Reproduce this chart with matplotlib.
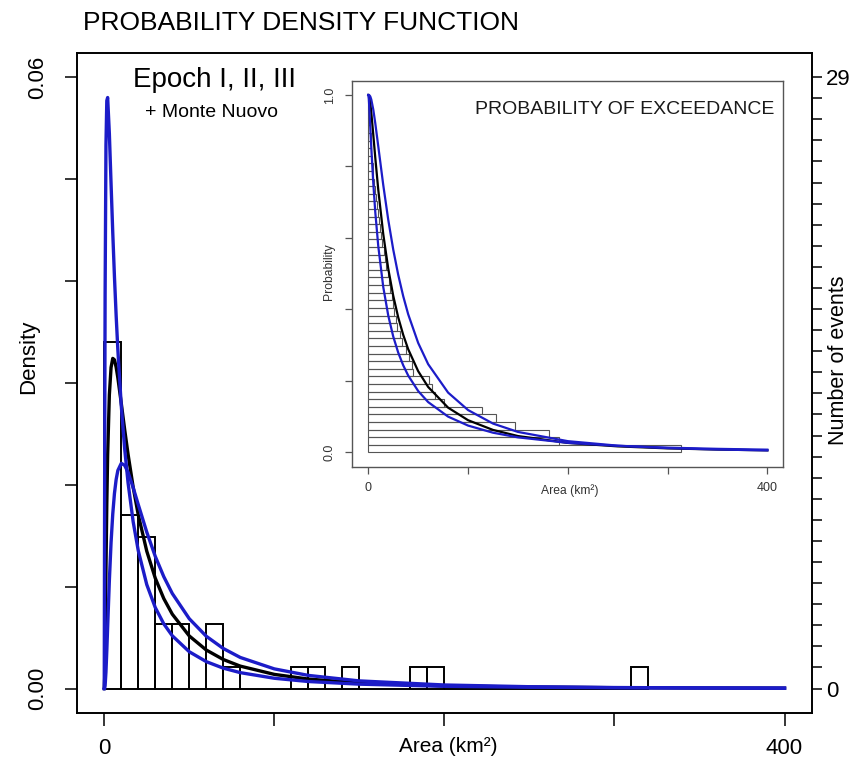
import numpy as np
import matplotlib
matplotlib.use("Agg")
import matplotlib.pyplot as plt

plt.rcParams["font.family"] = ["Liberation Sans", "DejaVu Sans"]

areas = [
    0.6, 0.9, 1.2, 1.5, 1.9, 2.3, 2.8, 3.2, 3.7, 4.3, 5.0, 5.8, 6.6, 7.5, 8.4, 9.4,
    10.8, 11.9, 13.0, 14.2, 15.5, 16.8, 18.0, 19.3,
    20.9, 22.1, 23.4, 24.6, 26.0, 27.5, 29.0,
    31.5, 34.0, 37.5,
    41.0, 43.5, 45.0,
    60.6, 63.5, 66.6,
    75.7,
    114.0, 128.5, 147.0, 181.0, 191.0, 313.0,
]
bin_edges = list(range(0, 330, 10))

# fitted density curves (main panel)
dens_x = [0, 0.25, 0.5, 1, 1.5, 2, 3, 4, 5, 6, 7, 8, 10, 12, 14, 17, 20, 25, 30, 35,
          40, 50, 60, 70, 80, 100, 120, 150, 200, 250, 300, 350, 400]
dens_black = [0, 0.00107, 0.00423, 0.01174, 0.01812, 0.02292, 0.02881, 0.03151, 0.03240,
              0.03226, 0.03153, 0.03049, 0.02800, 0.02542, 0.02299, 0.01976, 0.01704,
              0.01348, 0.01083, 0.00883, 0.00730, 0.00516, 0.00378, 0.00285, 0.00220,
              0.00139, 0.00093, 0.00055, 0.00026, 0.00014, 0.000085, 0.000053, 0.000035]
dens_blue_hi = [0, 0.02182, 0.03851, 0.05332, 0.05769, 0.05800, 0.05447, 0.04955, 0.04474,
                0.04040, 0.03658, 0.03324, 0.02777, 0.02353, 0.02019, 0.01637, 0.01353,
                0.01020, 0.00795, 0.00635, 0.00518, 0.00361, 0.00264, 0.00200, 0.00156,
                0.00101, 0.00069, 0.00043, 0.00022, 0.00013, 0.000081, 0.000054, 0.000038]
dens_blue_lo = [0, 0.00003, 0.00028, 0.00163, 0.00371, 0.00606, 0.01059, 0.01432, 0.01713,
                0.01915, 0.02052, 0.02140, 0.02210, 0.02191, 0.02121, 0.01972, 0.01805,
                0.01535, 0.01297, 0.01098, 0.00933, 0.00685, 0.00513, 0.00393, 0.00305,
                0.00193, 0.00129, 0.00075, 0.00035, 0.00018, 0.00010, 0.000062, 0.000039]

# exceedance curves (inset)
exc_x = [0, 0.5, 1, 2, 3, 5, 7, 10, 15, 20, 25, 30, 35, 40, 50, 60, 80, 100, 125, 150,
         200, 250, 300, 350, 400]
exc_black = [1.0, 0.9993, 0.9953, 0.9774, 0.9512, 0.8888, 0.8245, 0.7349, 0.6107, 0.5141,
             0.4382, 0.3778, 0.3289, 0.2887, 0.2273, 0.1831, 0.1252, 0.0901, 0.0629, 0.0458,
             0.0266, 0.0169, 0.0113, 0.0080, 0.0058]
exc_blue_a = [1.0, 0.9898, 0.9661, 0.9091, 0.8526, 0.7535, 0.6725, 0.5769, 0.4627, 0.3830,
              0.3242, 0.2792, 0.2437, 0.2150, 0.1717, 0.1408, 0.1001, 0.0751, 0.0551, 0.0421,
              0.0268, 0.0184, 0.0133, 0.0100, 0.0077]
exc_blue_b = [1.0, 1.0, 0.9995, 0.9958, 0.9874, 0.9591, 0.9210, 0.8563, 0.7480, 0.6508,
              0.5675, 0.4968, 0.4371, 0.3864, 0.3063, 0.2469, 0.1673, 0.1185, 0.0807, 0.0573,
              0.0315, 0.0189, 0.0121, 0.0081, 0.0056]

BLUE = "#1c1cc8"
n_events = len(areas)

fig = plt.figure(figsize=(8.56, 7.59), dpi=100)
ax = fig.add_axes([0.0900, 0.0606, 0.8583, 0.8700])

ax.hist(areas, bins=bin_edges, density=True, facecolor="none", edgecolor="black", lw=1.4)
ax.plot(dens_x, dens_black, color="black", lw=2.4)
ax.plot(dens_x, dens_blue_hi, color=BLUE, lw=2.4)
ax.plot(dens_x, dens_blue_lo, color=BLUE, lw=2.4)

ax.set_xlim(-16, 416)
ax.set_ylim(-0.0024, 0.0624)
ax.set_xticks([0, 100, 200, 300, 400])
ax.set_xticklabels(["0", "", "", "", "400"], fontsize=16)
ax.set_yticks([0, 0.01, 0.02, 0.03, 0.04, 0.05, 0.06])
ax.set_yticklabels(["0.00", "", "", "", "", "", "0.06"], fontsize=16, rotation=90, va="center")
ax.tick_params(axis="both", direction="out", length=9, width=1.1)
ax.tick_params(axis="x", pad=9)
ax.tick_params(axis="y", pad=12)
for sp in ax.spines.values():
    sp.set_linewidth(1.2)
ax.set_xlabel("Area (km²)", fontsize=15)
ax.xaxis.set_label_coords(0.505, -0.036)
ax.set_ylabel("Density", fontsize=16)
ax.yaxis.set_label_coords(-0.052, 0.54)

ax2 = ax.twinx()
scale = 29 / 0.06
ax2.set_ylim(-0.0024 * scale, 0.0624 * scale)
ax2.set_yticks(range(30))
ax2.set_yticklabels(["0"] + [""] * 28 + ["29"], fontsize=16)
ax2.tick_params(axis="y", direction="out", length=7, width=1.1, pad=3)
for sp in ax2.spines.values():
    sp.set_linewidth(1.2)
fig.text(0.979, 0.526, "Number of events", fontsize=15.5, rotation=90,
         ha="center", va="center")

fig.text(0.097, 0.970, "PROBABILITY DENSITY FUNCTION", fontsize=19, ha="left", va="center")
fig.text(0.155, 0.895, "Epoch I, II, III", fontsize=20, ha="left", va="center")
fig.text(0.169, 0.852, "+ Monte Nuovo", fontsize=14, ha="left", va="center")

# inset: probability of exceedance
GREY = "#555555"
ax_in = fig.add_axes([0.4116, 0.3851, 0.5035, 0.5086])
ax_in.set_facecolor("white")
sorted_desc = sorted(areas, reverse=True)
ranks = np.arange(n_events) / n_events
ax_in.barh(ranks, sorted_desc, height=1 / n_events, left=0, align="edge",
           facecolor="none", edgecolor=GREY, lw=0.8)
ax_in.plot(exc_x, exc_black, color="black", lw=1.6)
ax_in.plot(exc_x, exc_blue_a, color=BLUE, lw=1.6)
ax_in.plot(exc_x, exc_blue_b, color=BLUE, lw=1.6)
ax_in.set_xlim(-16, 416)
ax_in.set_ylim(-0.04, 1.04)
ax_in.set_xticks([0, 100, 200, 300, 400])
ax_in.set_xticklabels(["0", "", "", "", "400"], fontsize=9, color="#333333")
ax_in.set_yticks([0, 0.2, 0.4, 0.6, 0.8, 1.0])
ax_in.set_yticklabels(["0.0", "", "", "", "", "1.0"], fontsize=9, rotation=90, va="center",
                      color="#333333")
ax_in.tick_params(axis="both", direction="out", length=5, width=0.9, color=GREY)
ax_in.tick_params(axis="x", pad=6)
ax_in.tick_params(axis="y", pad=7)
for sp in ax_in.spines.values():
    sp.set_color(GREY)
    sp.set_linewidth(1.0)
ax_in.set_xlabel("Area (km²)", fontsize=8.7, color="#333333")
ax_in.xaxis.set_label_coords(0.505, -0.045)
ax_in.set_ylabel("Probability", fontsize=8.7, color="#333333")
ax_in.yaxis.set_label_coords(-0.040, 0.505)
ax_in.text(0.98, 0.925, "PROBABILITY OF EXCEEDANCE", transform=ax_in.transAxes,
           fontsize=14, ha="right", va="center", color="#1a1a1a")

fig.savefig("out.png", dpi=100)
